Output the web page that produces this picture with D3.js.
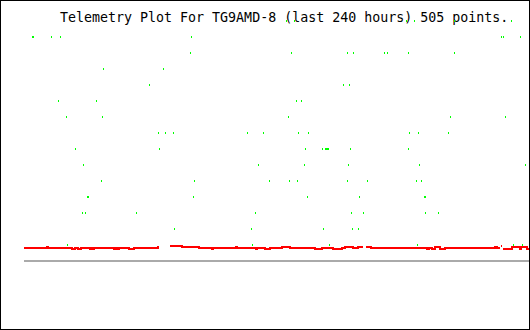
<!DOCTYPE html>
<html>
<head>
<meta charset="utf-8">
<script src="https://cdn.jsdelivr.net/npm/d3@7"></script>
<style>
  body { margin: 0; background: #fff; }
  svg { display: block; }
</style>
</head>
<body>
<div id="container"></div>
<script>
/* CONSTANTS AND GLOBALS */
const width = 530, height = 330;
const title = "Telemetry Plot For TG9AMD-8 (last 240 hours) 505 points.";

/* GREEN SERIES - hours ago and value */
const greenHours = [
  115.2, 111.4, 58.2, 54.4, 35.4, 8.3,
  236.0, 235.5, 226.9, 222.7, 160.4, 13.1, 12.1, 4.0,
  160.9, 112.9, 86.3, 83.4, 68.7, 67.2, 57.3, 35.4,
  202.2, 173.7,
  180.4, 88.2, 85.3,
  223.6, 205.5, 110.5, 108.1,
  219.8, 202.7, 114.3, 37.3, 11.2,
  176.1, 172.8, 169.0, 133.8, 126.2, 109.5, 104.8, 56.8, 52.5, 38.3,
  215.5, 175.6, 106.2, 98.1, 96.7, 96.2, 95.8, 95.3, 84.8, 57.3,
  211.7, 128.6, 106.7, 85.8, 52.0, 1.7,
  203.2, 159.0, 123.3, 113.8, 110.0, 86.3, 76.8, 53.5, 51.1,
  209.8, 209.3, 159.4, 105.3, 80.6, 49.7, 49.2,
  212.2, 210.8, 186.5, 130.0, 84.4, 78.7, 49.2, 43.0,
  168.5, 131.9, 97.7, 83.9, 81.0,
  219.3, 131.4, 94.8, 53.0, 7.4, 3.1
];
const greenVals = [
  15, 15, 15, 15, 15, 15,
  14, 14, 14, 14, 14, 14, 14, 14,
  13, 13, 13, 13, 13, 13, 13, 13,
  12, 12,
  11, 11, 11,
  10, 10, 10, 10,
  9, 9, 9, 9, 9,
  8, 8, 8, 8, 8, 8, 8, 8, 8, 8,
  7, 7, 7, 7, 7, 7, 7, 7, 7, 7,
  6, 6, 6, 6, 6, 6,
  5, 5, 5, 5, 5, 5, 5, 5, 5,
  4, 4, 4, 4, 4, 4, 4,
  3, 3, 3, 3, 3, 3, 3, 3,
  2, 2, 2, 2, 2,
  1, 1, 1, 1, 1, 1
];

/* RED SERIES - step changes, null = no data */
const redHours = [
  240.0, 229.1, 228.6, 217.2, 215.8, 214.3, 212.9, 208.6, 208.2, 207.2,
  206.7, 197.2, 196.3, 195.8, 194.9, 190.1, 187.7, 176.3, 175.8, 170.6,
  164.9, 156.8, 150.7, 150.2, 139.2, 138.8, 129.7, 129.3, 125.5, 123.1,
  117.4, 113.6, 101.7, 98.4, 93.1, 88.9, 87.4, 83.6, 81.3, 78.9,
  77.5, 75.1, 48.5, 47.5, 46.1, 44.7, 42.3, 39.9, 16.2, 15.2,
  13.8, 13.3, 12.8, 12.4, 8.1, 4.3, 3.8, 1.0, 0.0
];
const redVals = [
  0.8125, 0.875, 0.8125, 0.75, 0.8125, 0.75, 0.8125, 0.75, 0.8125, 0.75,
  0.8125, 0.75, 0.8125, 0.75, 0.8125, 0.75, 0.8125, 0.875, null, 0.9375,
  0.875, 0.8125, 0.75, 0.8125, 0.875, 0.8125, 0.75, 0.8125, 0.75, 0.8125,
  0.875, 0.8125, 0.75, 0.8125, 0.75, 0.8125, 0.875, 0.8125, 0.875, null,
  0.875, 0.8125, 0.75, 0.8125, 0.75, 0.875, 0.75, 0.8125, 0.875, 0.8125,
  null, 0.9375, null, 0.75, 0.875, 0.75, 0.875, 0.75, 0.75
];

// SCALES - x and y
const x = d3.scaleLinear().domain([240, 0]).range([24, 529]);
const y = d3.scaleLinear().domain([0, 15]).range([261, 21]);

// CREATE SVG ELEMENT
const svg = d3.select("#container").append("svg")
  .attr("width", width)
  .attr("height", height);

svg.append("rect")
  .attr("width", width)
  .attr("height", height)
  .attr("fill", "#fff");

/* TITLE */
svg.append("text")
  .attr("x", 60)
  .attr("y", 22)
  .style("font-family", "'DejaVu Sans Mono', monospace")
  .style("font-size", "13.3px")
  .attr("fill", "#000")
  .text(title);

/* ZERO LINE */
svg.append("line")
  .attr("x1", x(240)).attr("x2", x(0))
  .attr("y1", y(0)).attr("y2", y(0))
  .attr("stroke", "#aaaaaa")
  .attr("stroke-width", 2)
  .attr("shape-rendering", "crispEdges");

/* RED LINE - split into runs at gaps */
const runs = [];
let cur = [];
redHours.forEach((h, i) => {
  const v = redVals[i];
  if (v == null) {
    if (cur.length) { cur.push({ h: h, v: cur[cur.length - 1].v }); runs.push(cur); cur = []; }
  } else {
    cur.push({ h: h, v: v });
  }
});
if (cur.length) runs.push(cur);

const redLine = d3.line()
  .x(d => x(d.h))
  .y(d => y(d.v))
  .curve(d3.curveStepAfter);

svg.selectAll(".red")
  .data(runs)
  .join("path")
  .attr("class", "red")
  .attr("d", redLine)
  .attr("fill", "none")
  .attr("stroke", "#ff0000")
  .attr("stroke-width", 2)
  .attr("shape-rendering", "crispEdges");

/* GREEN POINTS */
svg.selectAll(".pt")
  .data(greenHours.map((h, i) => ({ h: h, v: greenVals[i] })))
  .join("rect")
  .attr("class", "pt")
  .attr("x", d => Math.floor(x(d.h)))
  .attr("y", d => y(d.v) - 1)
  .attr("width", 1)
  .attr("height", 2)
  .attr("fill", "#00ff00")
  .attr("shape-rendering", "crispEdges");

/* BORDER */
svg.append("rect")
  .attr("x", 0.5).attr("y", 0.5)
  .attr("width", width - 1).attr("height", height - 1)
  .attr("fill", "none")
  .attr("stroke", "#000")
  .attr("shape-rendering", "crispEdges");
</script>
</body>
</html>
